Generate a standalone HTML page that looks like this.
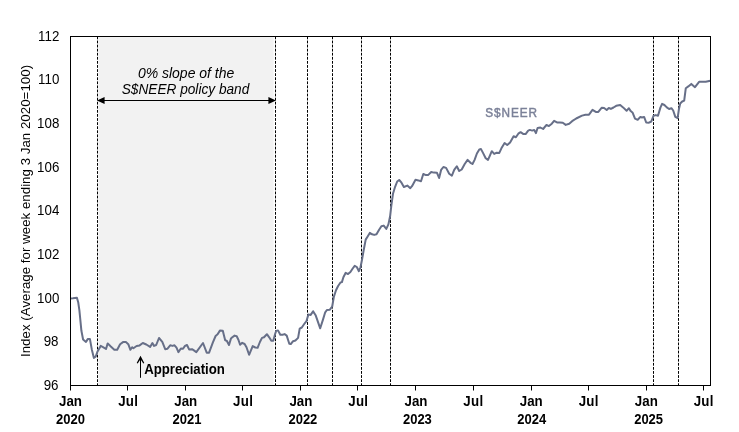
<!DOCTYPE html>
<html lang="en"><head><meta charset="utf-8"><title>S$NEER</title>
<style>html,body{margin:0;padding:0;background:#fff}svg{display:block;will-change:transform}text{font-family:"Liberation Sans",Arial,sans-serif;font-size:13.33px;fill:#000}.b{font-weight:bold}.i{font-style:italic}</style></head><body>
<svg width="739" height="432" viewBox="0 0 739 432">
<rect width="739" height="432" fill="#fff"/>
<rect x="98.3" y="36.5" width="175.3" height="349.0" fill="#f2f2f2"/>
<line x1="97.5" y1="36.5" x2="97.5" y2="385.5" stroke="#000" stroke-width="1" stroke-dasharray="2.78 1.3"/>
<line x1="275.5" y1="36.5" x2="275.5" y2="385.5" stroke="#000" stroke-width="1" stroke-dasharray="2.78 1.3"/>
<line x1="307.5" y1="36.5" x2="307.5" y2="385.5" stroke="#000" stroke-width="1" stroke-dasharray="2.78 1.3"/>
<line x1="332.5" y1="36.5" x2="332.5" y2="385.5" stroke="#000" stroke-width="1" stroke-dasharray="2.78 1.3"/>
<line x1="361.5" y1="36.5" x2="361.5" y2="385.5" stroke="#000" stroke-width="1" stroke-dasharray="2.78 1.3"/>
<line x1="390.5" y1="36.5" x2="390.5" y2="385.5" stroke="#000" stroke-width="1" stroke-dasharray="2.78 1.3"/>
<line x1="653.5" y1="36.5" x2="653.5" y2="385.5" stroke="#000" stroke-width="1" stroke-dasharray="2.78 1.3"/>
<line x1="678.5" y1="36.5" x2="678.5" y2="385.5" stroke="#000" stroke-width="1" stroke-dasharray="2.78 1.3"/>
<path d="M70.4 298.5 L72.9 298.3 L76.9 297.7 L78.2 302.2 L79.4 310.3 L80.2 318.5 L81.4 330.8 L83.1 339.5 L86.0 341.9 L87.9 338.9 L89.9 338.9 L91.8 349.4 L93.9 357.9 L95.8 356.4 L97.4 351.7 L100.7 345.9 L103.0 347.1 L106.0 349.0 L107.7 343.4 L110.8 346.5 L114.3 349.7 L117.2 349.7 L120.1 344.2 L123.0 342.1 L125.9 342.1 L128.3 344.2 L130.4 349.8 L132.1 347.2 L133.4 348.2 L136.6 346.0 L139.6 345.4 L142.8 343.0 L146.3 344.5 L150.1 346.9 L152.4 343.0 L154.1 345.9 L156.2 345.0 L159.0 338.0 L162.3 341.9 L165.2 349.2 L167.3 348.8 L170.2 345.3 L172.5 345.9 L174.5 345.3 L176.5 347.7 L178.4 352.1 L180.9 348.5 L183.0 348.8 L185.0 345.9 L187.0 345.0 L189.1 349.4 L192.0 349.2 L193.9 350.4 L196.3 352.1 L203.0 343.0 L206.7 352.7 L209.1 352.7 L212.9 342.4 L215.6 336.0 L217.6 334.3 L219.9 330.6 L222.8 330.8 L225.1 340.1 L226.9 341.0 L229.0 345.0 L231.0 338.4 L232.0 337.5 L234.6 335.6 L236.7 336.2 L238.4 339.7 L240.1 344.7 L242.2 342.8 L244.6 344.0 L246.5 347.2 L249.1 354.8 L252.7 346.1 L255.3 347.5 L257.6 347.8 L259.9 342.0 L262.0 337.9 L264.0 337.3 L266.9 334.2 L269.2 337.3 L271.3 340.8 L273.3 340.8 L275.3 333.3 L276.2 330.9 L278.0 330.4 L280.3 334.7 L282.6 334.7 L284.6 334.1 L286.7 335.6 L289.3 343.7 L290.8 344.0 L293.1 341.2 L295.4 340.5 L298.1 337.9 L299.7 328.6 L301.8 327.5 L304.2 324.0 L306.5 321.1 L308.4 314.4 L310.7 314.9 L313.1 311.2 L315.6 315.2 L320.2 328.3 L322.9 319.9 L325.2 312.3 L326.9 310.0 L329.9 309.7 L332.2 306.5 L333.9 296.6 L336.0 290.2 L338.1 286.0 L340.5 282.5 L341.9 282.1 L343.4 277.2 L345.7 272.8 L348.0 274.1 L350.4 272.0 L352.7 268.5 L354.7 265.8 L356.8 267.0 L358.9 271.2 L360.5 267.3 L362.0 259.8 L363.7 250.0 L365.7 239.6 L367.5 236.7 L369.8 232.9 L372.1 234.3 L374.2 234.9 L376.5 234.3 L379.1 229.7 L381.4 226.2 L383.7 225.6 L386.3 228.9 L388.4 224.4 L390.1 216.3 L391.3 206.0 L393.0 193.7 L395.1 186.8 L397.2 181.5 L399.2 180.0 L401.5 182.7 L403.9 187.0 L407.3 185.6 L410.3 188.2 L412.0 186.2 L415.5 179.8 L418.4 180.4 L421.0 181.2 L423.3 174.0 L426.0 175.1 L428.3 174.9 L431.2 172.0 L433.8 172.6 L437.0 172.8 L439.1 178.0 L441.1 169.9 L443.4 167.0 L446.1 167.9 L449.2 173.7 L451.9 175.7 L454.2 169.9 L456.8 166.2 L459.2 171.0 L461.7 169.5 L464.7 164.0 L467.6 159.9 L470.5 162.8 L472.5 164.0 L474.6 159.9 L476.9 153.5 L479.3 149.4 L481.0 149.1 L483.0 152.9 L485.7 158.2 L488.0 159.9 L490.0 155.3 L491.8 151.2 L494.2 153.9 L496.7 152.7 L499.3 152.9 L501.4 148.3 L504.6 143.0 L507.2 145.0 L510.1 142.5 L513.6 136.3 L515.9 137.2 L518.3 133.7 L520.6 132.2 L523.5 134.1 L525.6 134.1 L528.2 130.6 L529.9 129.9 L532.2 130.6 L534.2 129.9 L535.9 133.1 L537.6 128.0 L540.4 127.5 L543.1 129.0 L546.5 124.9 L548.9 126.1 L551.8 123.7 L554.1 120.8 L557.0 122.4 L559.9 122.6 L562.8 122.8 L565.7 124.9 L569.2 123.7 L572.1 121.2 L576.2 118.5 L582.0 115.6 L585.5 114.7 L589.0 114.7 L592.5 109.8 L595.8 111.9 L598.3 111.9 L601.8 107.7 L604.1 108.0 L606.7 110.0 L608.8 108.0 L610.9 108.9 L613.5 107.5 L616.2 105.8 L620.2 105.0 L623.1 107.4 L626.6 110.8 L628.9 108.2 L630.7 111.1 L632.7 112.8 L635.0 118.6 L637.7 119.8 L640.4 116.9 L642.0 117.5 L644.1 116.9 L646.2 122.5 L649.0 122.7 L651.3 121.5 L653.6 115.7 L655.7 115.1 L658.0 115.7 L660.4 107.6 L662.1 103.9 L664.4 105.0 L666.8 107.4 L669.1 109.0 L671.4 108.2 L673.2 110.5 L675.3 116.9 L677.6 118.1 L679.0 108.7 L680.2 103.5 L682.2 101.5 L684.2 100.6 L685.8 88.2 L688.3 86.4 L691.3 83.9 L695.0 87.2 L699.1 81.8 L705.7 81.8 L710.4 80.7" fill="none" stroke="#676f88" stroke-width="2" stroke-linejoin="round" stroke-linecap="butt"/>
<rect x="70.5" y="36.5" width="640.0" height="349.0" fill="none" stroke="#000" stroke-width="1"/>
<line x1="70.5" y1="385.5" x2="70.5" y2="390.5" stroke="#000" stroke-width="1"/>
<text transform="translate(70.50 405.75)  scale(1 1.04)" class="b" text-anchor="middle">Jan</text>
<text transform="translate(70.50 423.70)  scale(1 1.04)" class="b" text-anchor="middle" textLength="28.9" lengthAdjust="spacingAndGlyphs">2020</text>
<line x1="127.5" y1="385.5" x2="127.5" y2="390.5" stroke="#000" stroke-width="1"/>
<text transform="translate(128.20 405.75)  scale(1 1.04)" class="b" text-anchor="middle" style="letter-spacing:0.3px">Jul</text>
<line x1="185.5" y1="385.5" x2="185.5" y2="390.5" stroke="#000" stroke-width="1"/>
<text transform="translate(185.70 405.75)  scale(1 1.04)" class="b" text-anchor="middle">Jan</text>
<text transform="translate(187.00 423.70)  scale(1 1.04)" class="b" text-anchor="middle" textLength="28.9" lengthAdjust="spacingAndGlyphs">2021</text>
<line x1="242.5" y1="385.5" x2="242.5" y2="390.5" stroke="#000" stroke-width="1"/>
<text transform="translate(243.10 405.75)  scale(1 1.04)" class="b" text-anchor="middle" style="letter-spacing:0.3px">Jul</text>
<line x1="300.5" y1="385.5" x2="300.5" y2="390.5" stroke="#000" stroke-width="1"/>
<text transform="translate(300.90 405.75)  scale(1 1.04)" class="b" text-anchor="middle">Jan</text>
<text transform="translate(302.90 423.70)  scale(1 1.04)" class="b" text-anchor="middle" textLength="28.9" lengthAdjust="spacingAndGlyphs">2022</text>
<line x1="357.5" y1="385.5" x2="357.5" y2="390.5" stroke="#000" stroke-width="1"/>
<text transform="translate(358.30 405.75)  scale(1 1.04)" class="b" text-anchor="middle" style="letter-spacing:0.3px">Jul</text>
<line x1="415.5" y1="385.5" x2="415.5" y2="390.5" stroke="#000" stroke-width="1"/>
<text transform="translate(416.00 405.75)  scale(1 1.04)" class="b" text-anchor="middle">Jan</text>
<text transform="translate(417.40 423.70)  scale(1 1.04)" class="b" text-anchor="middle" textLength="28.9" lengthAdjust="spacingAndGlyphs">2023</text>
<line x1="473.5" y1="385.5" x2="473.5" y2="390.5" stroke="#000" stroke-width="1"/>
<text transform="translate(473.40 405.75)  scale(1 1.04)" class="b" text-anchor="middle" style="letter-spacing:0.3px">Jul</text>
<line x1="531.5" y1="385.5" x2="531.5" y2="390.5" stroke="#000" stroke-width="1"/>
<text transform="translate(531.20 405.75)  scale(1 1.04)" class="b" text-anchor="middle">Jan</text>
<text transform="translate(531.80 423.70)  scale(1 1.04)" class="b" text-anchor="middle" textLength="28.9" lengthAdjust="spacingAndGlyphs">2024</text>
<line x1="588.5" y1="385.5" x2="588.5" y2="390.5" stroke="#000" stroke-width="1"/>
<text transform="translate(588.70 405.75)  scale(1 1.04)" class="b" text-anchor="middle" style="letter-spacing:0.3px">Jul</text>
<line x1="646.5" y1="385.5" x2="646.5" y2="390.5" stroke="#000" stroke-width="1"/>
<text transform="translate(646.30 405.75)  scale(1 1.04)" class="b" text-anchor="middle">Jan</text>
<text transform="translate(648.60 423.70)  scale(1 1.04)" class="b" text-anchor="middle" textLength="28.9" lengthAdjust="spacingAndGlyphs">2025</text>
<line x1="703.5" y1="385.5" x2="703.5" y2="390.5" stroke="#000" stroke-width="1"/>
<text transform="translate(703.70 405.75)  scale(1 1.04)" class="b" text-anchor="middle" style="letter-spacing:0.3px">Jul</text>
<text transform="translate(59.30 40.95)  scale(1 1.04)" text-anchor="end">112</text>
<text transform="translate(59.30 83.95)  scale(1 1.04)" text-anchor="end">110</text>
<text transform="translate(59.30 127.95)  scale(1 1.04)" text-anchor="end">108</text>
<text transform="translate(59.30 171.95)  scale(1 1.04)" text-anchor="end">106</text>
<text transform="translate(59.30 214.95)  scale(1 1.04)" text-anchor="end">104</text>
<text transform="translate(59.30 258.95)  scale(1 1.04)" text-anchor="end">102</text>
<text transform="translate(59.30 302.95)  scale(1 1.04)" text-anchor="end">100</text>
<text transform="translate(58.50 345.95)  scale(1 1.04)" text-anchor="end">98</text>
<text transform="translate(58.50 389.95)  scale(1 1.04)" text-anchor="end">96</text>
<text transform="translate(29.50 357.00) rotate(-90) ">Index (Average for week ending 3 Jan 2020=100)</text>
<text transform="translate(186.10 77.75)  scale(1 1.04)" class="i" text-anchor="middle" textLength="96.4" lengthAdjust="spacingAndGlyphs">0% slope of the</text>
<text transform="translate(185.50 93.75)  scale(1 1.04)" class="i" text-anchor="middle" textLength="127.6" lengthAdjust="spacingAndGlyphs">S$NEER policy band</text>
<line x1="103" y1="100.5" x2="270" y2="100.5" stroke="#000" stroke-width="1"/>
<path d="M97 100.5 L104.6 96.9 L104.6 104.1 Z M276 100.5 L268.4 96.9 L268.4 104.1 Z" fill="#000"/>
<path d="M140.5 377.8 L140.5 358" fill="none" stroke="#000" stroke-width="1"/>
<path d="M140.5 355.8 L144.3 363 L143.3 363.5 L140.5 359.3 L137.7 363.5 L136.7 363 Z" fill="#000"/>
<text transform="translate(144.20 373.85)  scale(1 1.04)" class="b" textLength="80.7" lengthAdjust="spacingAndGlyphs">Appreciation</text>
<text transform="translate(485.20 116.50)  scale(1 1.04)" textLength="51.8" lengthAdjust="spacing" style="font-size:11.8px;fill:#7b8198;stroke:#7b8198;stroke-width:0.45px">S$NEER</text>
</svg></body></html>
